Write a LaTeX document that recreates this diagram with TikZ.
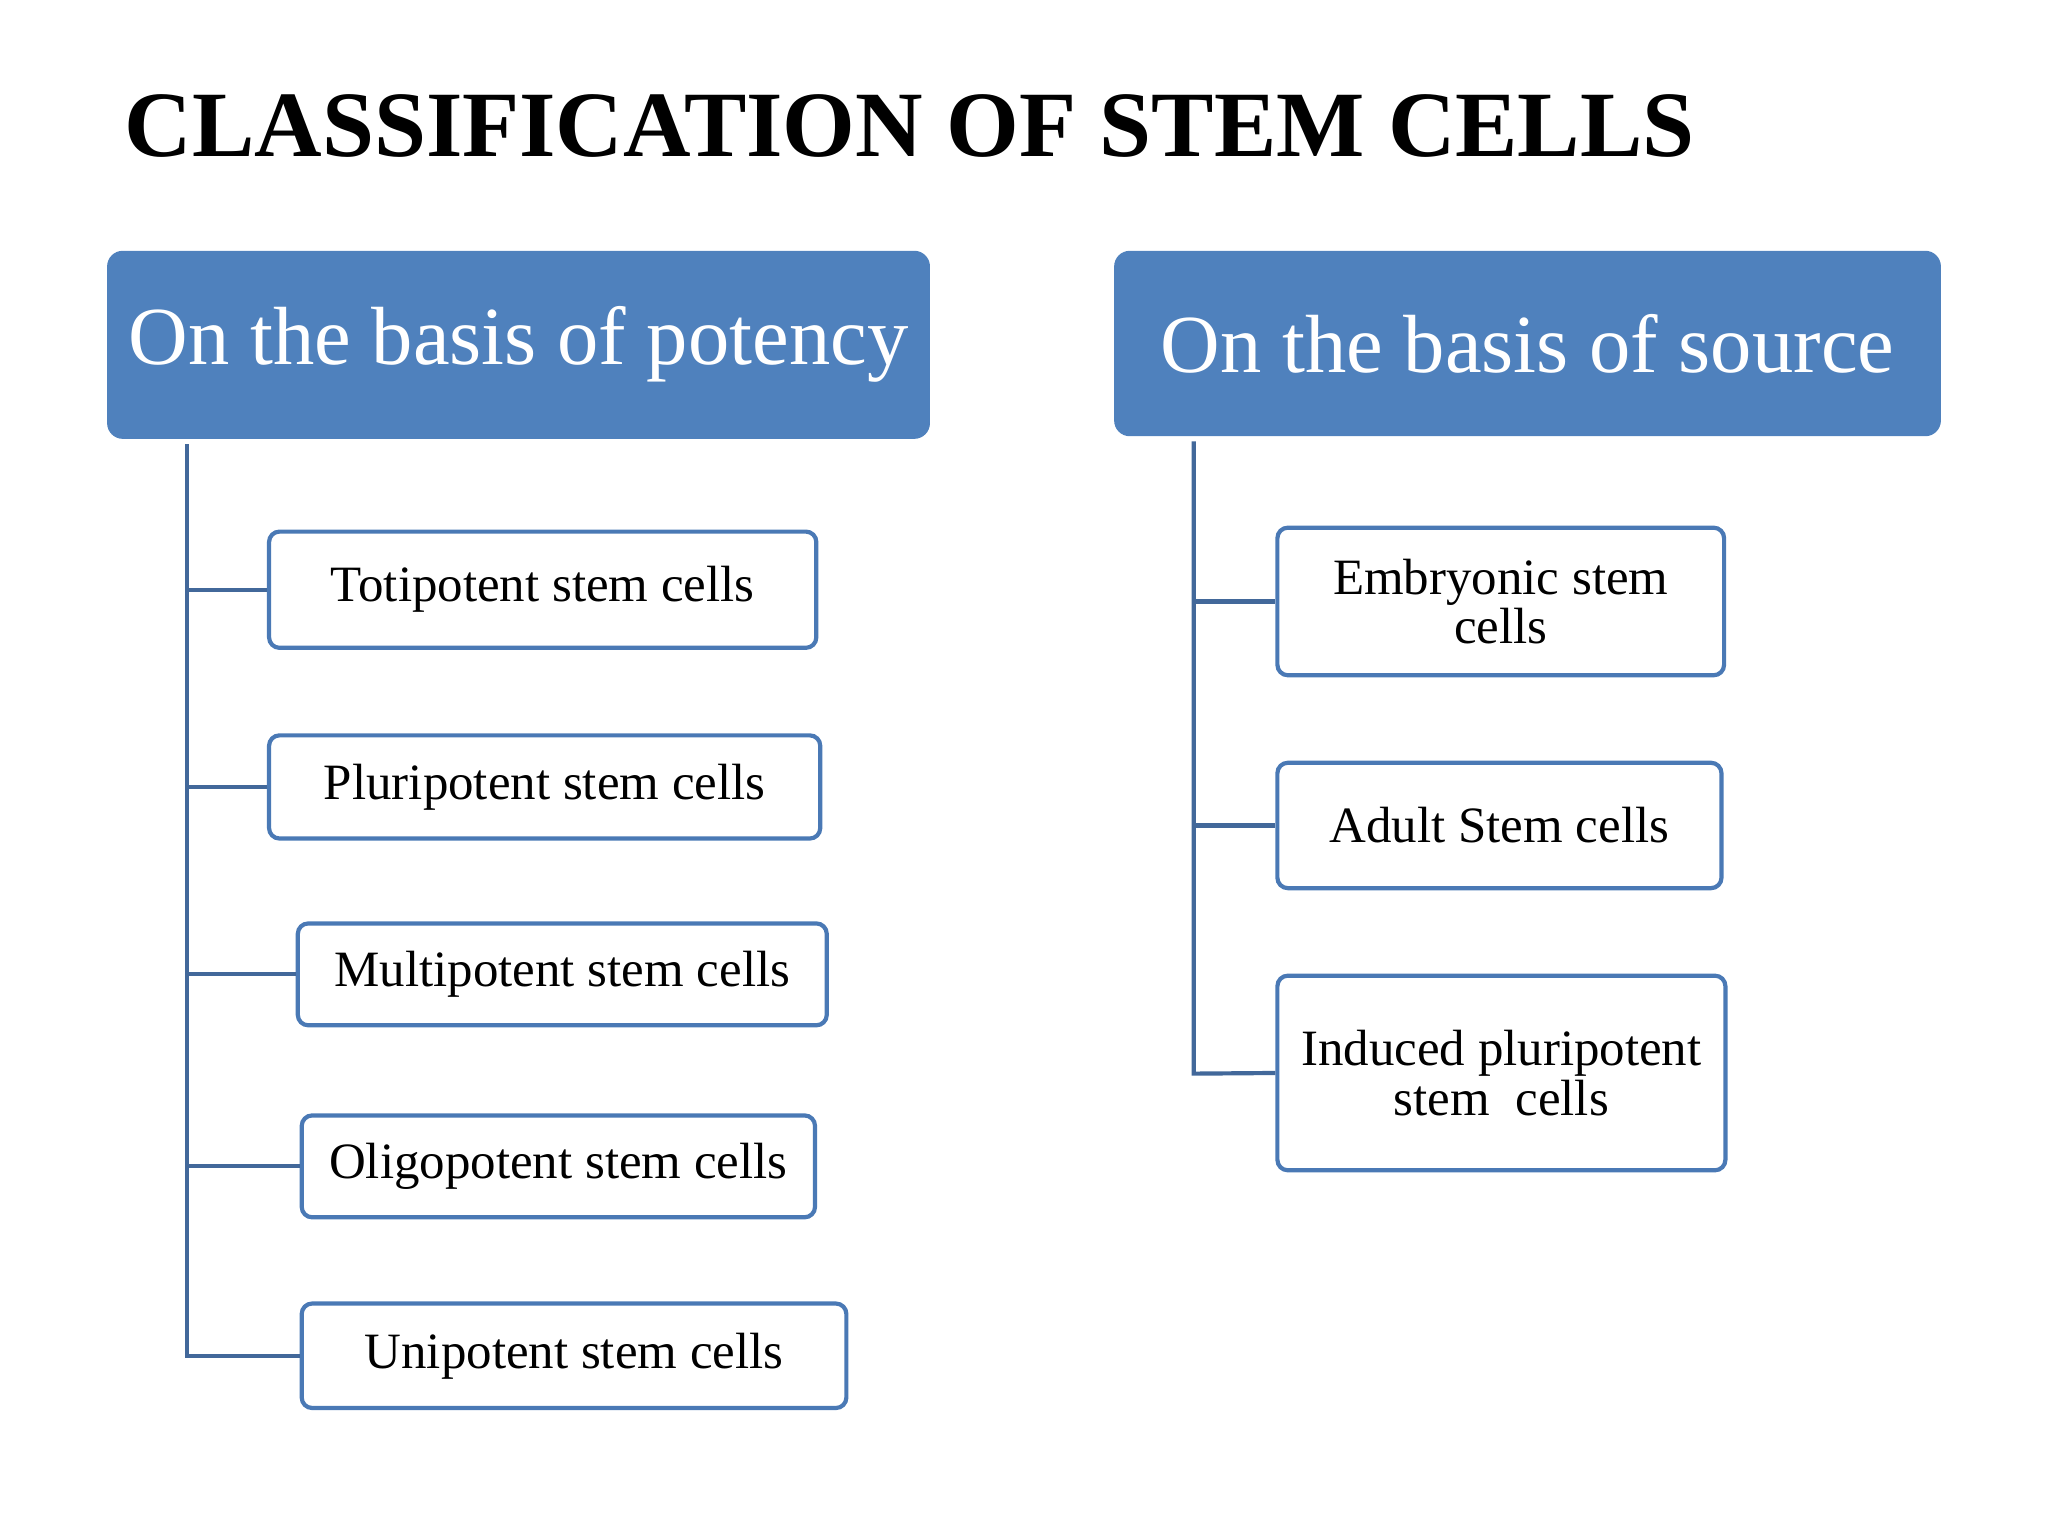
\documentclass[tikz,border=0pt]{standalone}
\usepackage{fontspec}
\setmainfont{Liberation Serif}
\begin{document}
\begin{tikzpicture}[x=0.5pt,y=-0.5pt,
  hdr/.style={draw=none,fill=hdrblue,rounded corners=6pt,text=white,font=\fontsize{31.6}{36}\selectfont,inner sep=0pt},
  box/.style={draw=boxblue,line width=1.6pt,fill=white,rounded corners=4pt,font=\fontsize{19.5}{21}\selectfont,inner sep=0pt,align=center},
  conn/.style={draw=linblue,line width=1.6pt}]
\definecolor{hdrblue}{HTML}{4F81BD}
\definecolor{boxblue}{HTML}{4A79B5}
\definecolor{linblue}{HTML}{42689A}
\useasboundingbox (0,0) rectangle (1568,1176);
\node[font=\fontsize{35.8}{40}\selectfont\bfseries,anchor=base west,inner sep=0pt] (title) at (95,120) {CLASSIFICATION OF STEM CELLS};
\node[hdr,minimum width=315pt,minimum height=72pt] (hl) at (397,264) {On the basis of potency};
\node[hdr,minimum width=316.5pt,minimum height=71pt] (hr) at (1169.5,263) {On the basis of source};
% left boxes
\node[box,minimum width=209.5pt,minimum height=44.5pt] (b1) at (415.5,451.5) {Totipotent stem cells};
\node[box,minimum width=211pt,minimum height=39.5pt] (b2) at (417,602.5) {Pluripotent stem cells};
\node[box,minimum width=202.5pt,minimum height=39pt] (b3) at (430.5,746) {Multipotent stem cells};
\node[box,minimum width=196.5pt,minimum height=39pt] (b4) at (427.5,893) {Oligopotent stem cells};
\node[box,minimum width=208.5pt,minimum height=40pt] (b5) at (439.5,1038) {Unipotent stem cells};
% right boxes
\node[box,minimum width=171pt,minimum height=56.5pt] (c1) at (1149,460.5) {Embryonic stem\\[-2pt]cells};
\node[box,minimum width=170pt,minimum height=48pt] (c2) at (1148,632) {Adult Stem cells};
\node[box,minimum width=171.5pt,minimum height=74.5pt] (c3) at (1149.5,821.5) {Induced pluripotent\\[-2pt]stem\ \ cells};
% trunks
\coordinate (lt) at (143,340);
\coordinate (lb) at (143,1038);
\coordinate (rt) at (914,338);
\coordinate (rb) at (914,822);
\draw[conn] (lt) -- (lb) -- (b5.west);
\foreach \b in {b1,b2,b3,b4} \draw[conn] (\b.west -| lt) -- (\b.west);
\draw[conn] (rt) -- (rb) -- (c3.west);
\foreach \b in {c1,c2} \draw[conn] (\b.west -| rt) -- (\b.west);
\end{tikzpicture}
\end{document}
